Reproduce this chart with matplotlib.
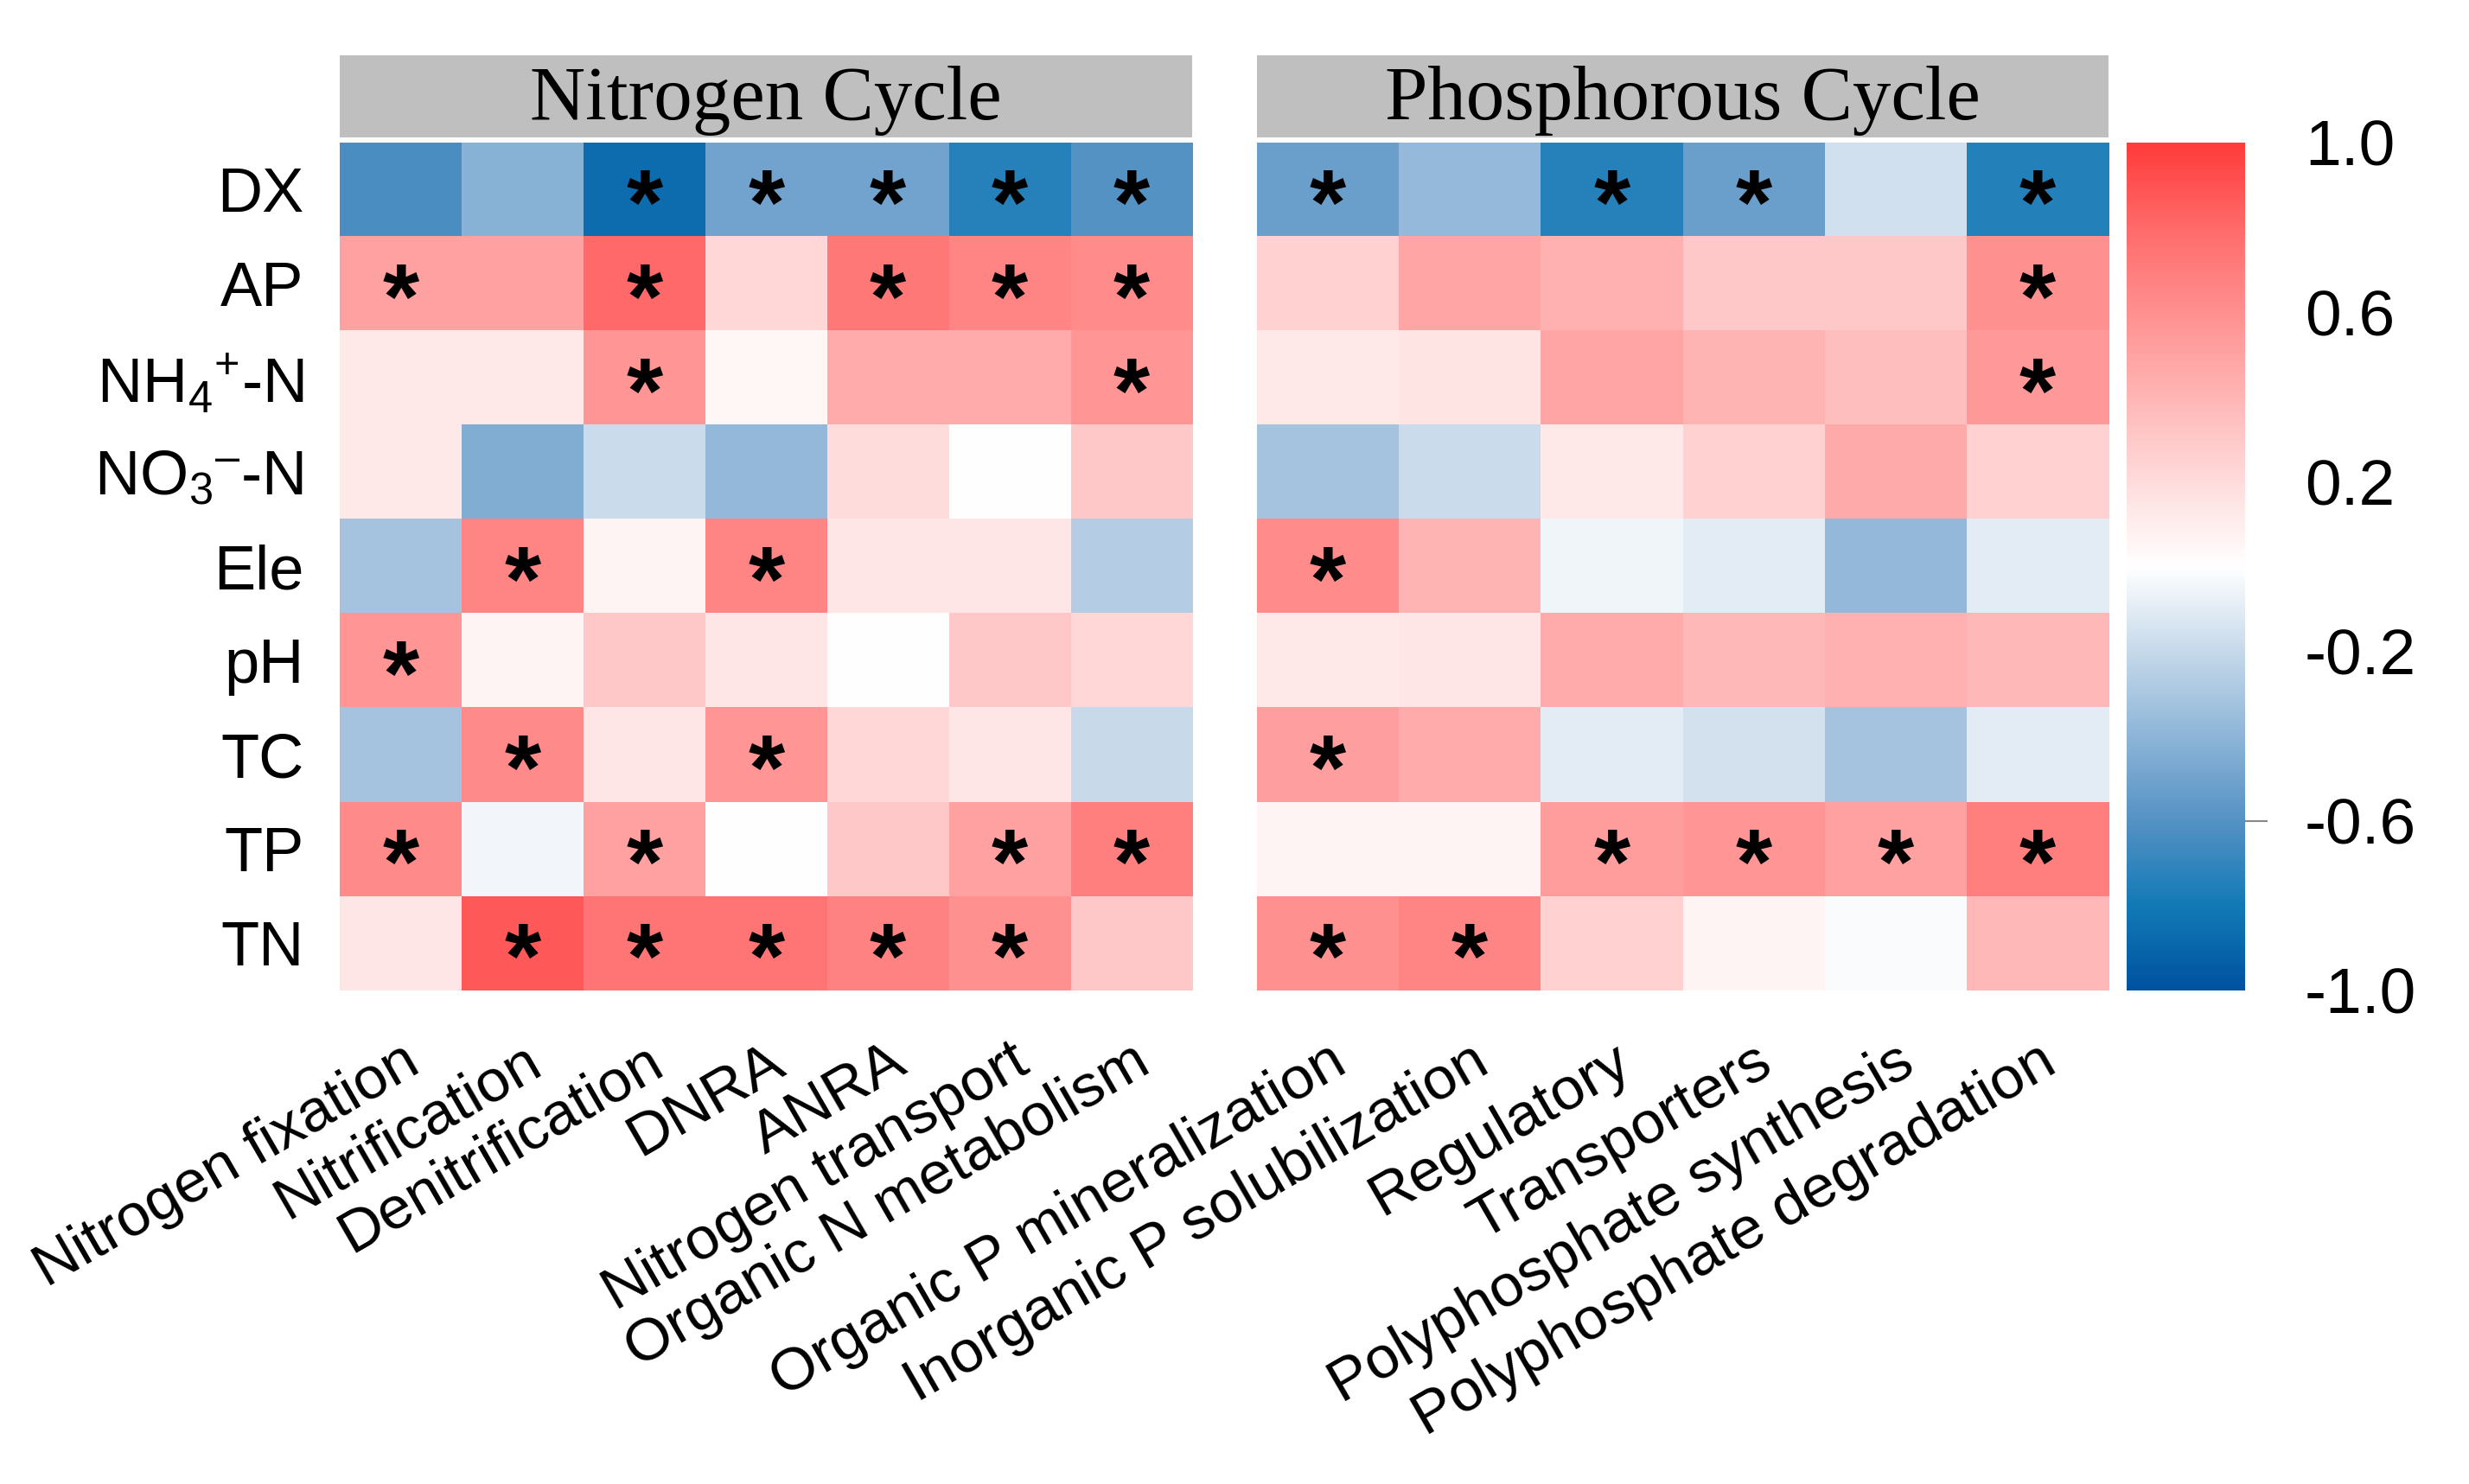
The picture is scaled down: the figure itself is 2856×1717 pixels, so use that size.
import numpy as np
import matplotlib
matplotlib.use('Agg')
import matplotlib.pyplot as plt
from matplotlib.colors import LinearSegmentedColormap

plt.rcParams['font.family'] = ['Liberation Sans', 'DejaVu Sans']
plt.rcParams['mathtext.fontset'] = 'custom'
plt.rcParams['mathtext.rm'] = 'Liberation Sans'
plt.rcParams['mathtext.it'] = 'Liberation Sans:italic'

rows = ['DX', 'AP', 'NH$_4$$^{+}$-N', 'NO$_3$$^{\u2013}$-N', 'Ele', 'pH', 'TC', 'TP', 'TN']

n_cols = ['Nitrogen fixation', 'Nitrification', 'Denitrification', 'DNRA', 'ANRA',
          'Nitrogen transport', 'Organic N metabolism']
p_cols = ['Organic P mineralization', 'Inorganic P solubilization', 'Regulatory',
          'Transporters', 'Polyphosphate synthesis', 'Polyphosphate degradation']

# correlation values (rows x columns)
n_vals = [
    [-0.63, -0.42, -0.86, -0.50, -0.50, -0.74, -0.60],
    [0.50, 0.50, 0.80, 0.22, 0.72, 0.65, 0.62],
    [0.13, 0.13, 0.57, 0.05, 0.45, 0.45, 0.57],
    [0.13, -0.44, -0.18, -0.38, 0.20, 0.00, 0.30],
    [-0.32, 0.65, 0.06, 0.65, 0.14, 0.14, -0.26],
    [0.57, 0.06, 0.30, 0.14, 0.00, 0.30, 0.22],
    [-0.32, 0.63, 0.14, 0.57, 0.22, 0.14, -0.19],
    [0.63, -0.04, 0.50, 0.00, 0.30, 0.50, 0.68],
    [0.14, 0.87, 0.74, 0.74, 0.67, 0.60, 0.30],
]
p_vals = [
    [-0.52, -0.37, -0.74, -0.52, -0.16, -0.75],
    [0.25, 0.48, 0.42, 0.30, 0.30, 0.60],
    [0.13, 0.15, 0.48, 0.40, 0.35, 0.55],
    [-0.32, -0.18, 0.13, 0.25, 0.46, 0.25],
    [0.62, 0.40, -0.05, -0.10, -0.38, -0.10],
    [0.13, 0.14, 0.45, 0.38, 0.42, 0.38],
    [0.52, 0.45, -0.10, -0.15, -0.32, -0.10],
    [0.06, 0.06, 0.53, 0.57, 0.50, 0.68],
    [0.60, 0.65, 0.25, 0.06, -0.02, 0.38],
]

# significance (1 = *)
n_sig = [
    [0, 0, 1, 1, 1, 1, 1],
    [1, 0, 1, 0, 1, 1, 1],
    [0, 0, 1, 0, 0, 0, 1],
    [0, 0, 0, 0, 0, 0, 0],
    [0, 1, 0, 1, 0, 0, 0],
    [1, 0, 0, 0, 0, 0, 0],
    [0, 1, 0, 1, 0, 0, 0],
    [1, 0, 1, 0, 0, 1, 1],
    [0, 1, 1, 1, 1, 1, 0],
]
p_sig = [
    [1, 0, 1, 1, 0, 1],
    [0, 0, 0, 0, 0, 1],
    [0, 0, 0, 0, 0, 1],
    [0, 0, 0, 0, 0, 0],
    [1, 0, 0, 0, 0, 0],
    [0, 0, 0, 0, 0, 0],
    [1, 0, 0, 0, 0, 0],
    [0, 0, 1, 1, 1, 1],
    [1, 1, 0, 0, 0, 0],
]

cb_ticks = [1.0, 0.6, 0.2, -0.2, -0.6, -1.0]

cmap = LinearSegmentedColormap.from_list('rb', [
    (0.0, '#0052A0'), (0.1, '#137AB6'), (0.2, '#5592C4'), (0.3, '#8EB5D8'),
    (0.4, '#C6D9EA'), (0.5, '#FFFFFF'), (0.6, '#FFDCDC'), (0.7, '#FFB5B5'),
    (0.8, '#FF9090'), (0.9, '#FF6A6A'), (1.0, '#FF3B3B')])

fig = plt.figure(figsize=(28.56, 17.17), dpi=100)

top, bot = 0.904, 0.3326
panels = [
    (0.1376, 0.4830, n_vals, n_sig, n_cols, 'Nitrogen Cycle', True),
    (0.5090, 0.8540, p_vals, p_sig, p_cols, 'Phosphorous Cycle', False),
]

for left, right, vals, sig, cols, title, show_rows in panels:
    ax = fig.add_axes([left, bot, right - left, top - bot])
    im = ax.imshow(np.array(vals), cmap=cmap, vmin=-1, vmax=1, aspect='auto',
                   interpolation='nearest')
    for s in ax.spines.values():
        s.set_visible(False)
    ax.set_xticks(range(len(cols)))
    ax.set_xticklabels(cols, rotation=30, ha='right', rotation_mode='anchor',
                       fontsize=50)
    ax.tick_params(axis='x', length=0, pad=36)
    ax.set_yticks(range(len(rows)))
    if show_rows:
        ax.set_yticklabels(rows, fontsize=52)
        ax.tick_params(axis='y', length=0, pad=30)
    else:
        ax.set_yticklabels([])
        ax.tick_params(axis='y', length=0)
    sig = np.array(sig)
    for i in range(sig.shape[0]):
        for j in range(sig.shape[1]):
            if sig[i, j]:
                ax.text(j, i + 0.22, '*', ha='center', va='center', fontsize=78,
                        fontweight='bold', color='black')
    sax = fig.add_axes([left, 0.9074, right - left, 0.9627 - 0.9074])
    sax.set_facecolor('#BFBFBF')
    sax.set_xticks([])
    sax.set_yticks([])
    for s in sax.spines.values():
        s.set_visible(False)
    sax.text(0.5, 0.45, title, ha='center', va='center', fontsize=64,
             family='Liberation Serif', transform=sax.transAxes)

cax = fig.add_axes([0.8612, bot, 0.9092 - 0.8612, top - bot])
cbar = fig.colorbar(im, cax=cax, ticks=cb_ticks)
cbar.outline.set_visible(False)
cbar.ax.set_yticklabels(['%.1f' % t for t in cb_ticks])
cbar.ax.tick_params(which='major', length=0, pad=50, labelsize=54)
cbar.ax.yaxis.remove_overlapping_locs = False
cbar.set_ticks([-0.6], minor=True)
cbar.ax.tick_params(which='minor', length=19, width=1.5, color='#888888')

fig.savefig('out.png', dpi=100)
